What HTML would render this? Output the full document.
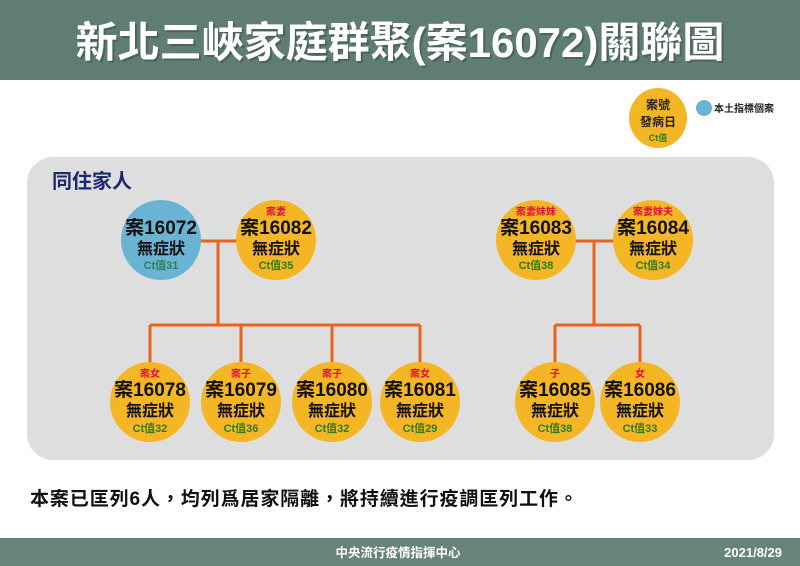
<!DOCTYPE html>
<html><head><meta charset="utf-8"><style>
html,body{margin:0;padding:0;width:800px;height:566px;overflow:hidden;background:#fff}
svg{display:block}
text{font-family:"Liberation Sans","Noto Sans CJK TC",sans-serif;font-weight:bold}
</style></head><body>
<svg width="800" height="566" viewBox="0 0 800 566" xmlns="http://www.w3.org/2000/svg">
<rect x="0" y="0" width="800" height="80" fill="#5f7d74"/>
<text x="402" y="59" text-anchor="middle" font-size="42" fill="#3a4a44" opacity="0.5">新北三峽家庭群聚(案16072)關聯圖</text>
<text x="400" y="57" text-anchor="middle" font-size="42" fill="#fff">新北三峽家庭群聚(案16072)關聯圖</text>
<ellipse cx="658" cy="118" rx="29" ry="30" fill="#f5b625"/>
<text x="658" y="109" text-anchor="middle" font-size="12" fill="#222">案號</text>
<text x="658" y="126" text-anchor="middle" font-size="12" fill="#222">發病日</text>
<text x="658" y="141" text-anchor="middle" font-size="9" fill="#2e7d1e">Ct值</text>
<circle cx="704" cy="108" r="8" fill="#6bb3d3"/>
<text x="714" y="112" font-size="10" fill="#222">本土指標個案</text>
<rect x="27" y="157" width="747" height="303" rx="26" fill="#dedede"/>
<text x="52" y="188" font-size="20" fill="#1d2a6b">同住家人</text>
<g stroke="#e8641e" stroke-width="3" fill="none">
<path d="M200 241H238M218 241V325M150 325H420M150 325V362M241 325V362M332 325V362M420 325V362"/>
<path d="M575 241H614M594 241V325M555 325H640M555 325V362M640 325V362"/>
</g>
<g text-anchor="middle" fill="#111">
<circle cx="161" cy="240" r="40" fill="#6bb3d3"/>
<text x="161" y="234" font-size="19">案16072</text><text x="161" y="254" font-size="16">無症狀</text><text x="161" y="269" font-size="11" fill="#2e7d56">Ct值31</text>
</g>
<g>
<circle cx="276" cy="240" r="40" fill="#f5b625"/>
<circle cx="536" cy="240" r="40" fill="#f5b625"/>
<circle cx="653" cy="240" r="40" fill="#f5b625"/>
<circle cx="150" cy="402" r="40" fill="#f5b625"/>
<circle cx="241" cy="402" r="40" fill="#f5b625"/>
<circle cx="332" cy="402" r="40" fill="#f5b625"/>
<circle cx="420" cy="402" r="40" fill="#f5b625"/>
<circle cx="555" cy="402" r="40" fill="#f5b625"/>
<circle cx="640" cy="402" r="40" fill="#f5b625"/>
</g>
<g text-anchor="middle" font-size="10" fill="#e0103c">
<text x="276" y="215">案妻</text><text x="536" y="215">案妻妹妹</text><text x="653" y="215">案妻妹夫</text>
<text x="150" y="377">案女</text><text x="241" y="377">案子</text><text x="332" y="377">案子</text><text x="420" y="377">案女</text>
<text x="555" y="377">子</text><text x="640" y="377">女</text>
</g>
<g text-anchor="middle" font-size="19" fill="#111">
<text x="276" y="234">案16082</text><text x="536" y="234">案16083</text><text x="653" y="234">案16084</text>
<text x="150" y="396">案16078</text><text x="241" y="396">案16079</text><text x="332" y="396">案16080</text><text x="420" y="396">案16081</text>
<text x="555" y="396">案16085</text><text x="640" y="396">案16086</text>
</g>
<g text-anchor="middle" font-size="16" fill="#111">
<text x="276" y="254">無症狀</text><text x="536" y="254">無症狀</text><text x="653" y="254">無症狀</text>
<text x="150" y="416">無症狀</text><text x="241" y="416">無症狀</text><text x="332" y="416">無症狀</text><text x="420" y="416">無症狀</text>
<text x="555" y="416">無症狀</text><text x="640" y="416">無症狀</text>
</g>
<g text-anchor="middle" font-size="11" fill="#2e7d1e">
<text x="276" y="269">Ct值35</text><text x="536" y="269">Ct值38</text><text x="653" y="269">Ct值34</text>
<text x="150" y="432">Ct值32</text><text x="241" y="432">Ct值36</text><text x="332" y="432">Ct值32</text><text x="420" y="432">Ct值29</text>
<text x="555" y="432">Ct值38</text><text x="640" y="432">Ct值33</text>
</g>
<text x="30" y="505" font-size="19" letter-spacing="0.9" fill="#111">本案已匡列6人，均列爲居家隔離，將持續進行疫調匡列工作。</text>
<rect x="0" y="538" width="800" height="28" fill="#67837a"/>
<text x="398" y="557" text-anchor="middle" font-size="12.5" fill="#fff">中央流行疫情指揮中心</text>
<text x="782" y="557" text-anchor="end" font-size="13" fill="#fff">2021/8/29</text>
</svg>
</body></html>
